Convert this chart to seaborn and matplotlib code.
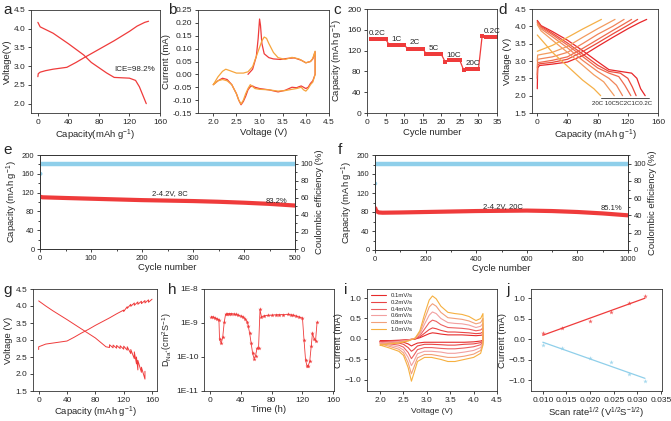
import matplotlib
matplotlib.use('Agg')
import matplotlib.pyplot as plt
import numpy as np
import seaborn as sns
from matplotlib.ticker import AutoMinorLocator, FuncFormatter, NullLocator
from matplotlib.lines import Line2D

RED = '#ef3b3b'
ORANGE = '#f6a53d'
BLUE = '#8fcfea'

# ---- a: first charge / discharge ----
a_chg_cap = [0, 0.5, 3, 10, 20, 38, 50, 60, 80, 100, 120, 130, 140, 145]
a_chg_v = [2.72, 2.8, 2.84, 2.88, 2.92, 2.97, 3.1, 3.22, 3.45, 3.68, 3.93, 4.07, 4.17, 4.2]
a_dis_cap = [0, 3, 20, 40, 60, 70, 80, 90, 100, 120, 128, 133, 137, 140, 142]
a_dis_v = [4.17, 4.05, 3.88, 3.6, 3.3, 3.1, 2.96, 2.82, 2.7, 2.68, 2.62, 2.45, 2.25, 2.1, 2.0]

# ---- b: CV first cycles ----
b_red_v = [2.75, 2.85, 2.93, 2.97, 3.0, 3.02, 3.05, 3.1, 3.2, 3.3, 3.45, 3.6, 3.75, 3.9, 4.0, 4.1,
           4.15, 4.2, 4.2, 4.15, 4.1, 4.05, 4.0, 3.95, 3.9, 3.85, 3.8, 3.7, 3.55, 3.4, 3.2, 3.0,
           2.9, 2.85, 2.8, 2.75, 2.7, 2.65, 2.6, 2.55, 2.5, 2.4, 2.3, 2.2, 2.1, 2.0]
b_red_i = [0.0, 0.02, 0.07, 0.14, 0.215, 0.19, 0.12, 0.08, 0.065, 0.06, 0.058, 0.062, 0.064, 0.055,
           0.045, 0.05, 0.06, 0.088, 0.0, -0.025, -0.035, -0.05, -0.055, -0.05, -0.045, -0.048,
           -0.052, -0.05, -0.062, -0.068, -0.06, -0.055, -0.05, -0.045, -0.048, -0.06, -0.085,
           -0.105, -0.118, -0.1, -0.075, -0.04, -0.02, -0.015, -0.025, -0.04]
b_or_v = [2.0, 2.1, 2.2, 2.27, 2.35, 2.5, 2.65, 2.75, 2.85, 2.95, 3.05, 3.1, 3.15, 3.2, 3.3, 3.4,
          3.55, 3.7, 3.85, 4.0, 4.1, 4.15, 4.2, 4.2, 4.15, 4.1, 4.05, 4.0, 3.95, 3.9, 3.8, 3.7,
          3.55, 3.4, 3.2, 3.0, 2.9, 2.8, 2.75, 2.7, 2.65, 2.6, 2.55, 2.5, 2.4, 2.3, 2.2, 2.1, 2.0]
b_or_i = [-0.04, -0.01, 0.012, 0.02, 0.015, 0.005, 0.005, 0.01, 0.03, 0.08, 0.13, 0.145, 0.14, 0.12,
          0.085, 0.065, 0.058, 0.066, 0.06, 0.045, 0.05, 0.062, 0.09, 0.0, -0.03, -0.04, -0.055,
          -0.065, -0.06, -0.05, -0.055, -0.058, -0.063, -0.065, -0.06, -0.058, -0.055, -0.04,
          -0.055, -0.075, -0.1, -0.115, -0.1, -0.075, -0.04, -0.025, -0.02, -0.025, -0.04]

# ---- c: rate capability ----
c_cycle = list(range(1, 36))
c_cap = [142, 142, 142, 142, 142, 131, 131, 131, 131, 130, 124, 124, 124, 124, 124,
         113, 113, 113, 113, 113, 99, 101, 102, 102, 101, 83, 84, 84, 84, 84,
         148, 147, 147, 146, 146]
c_rate_lbl = ['0.2C', '1C', '2C', '5C', '10C', '20C', '0.2C']
c_lbl_x = [0.5, 6.5, 11.5, 16.5, 21.5, 26.5, 31.5]
c_lbl_y = [150, 139, 132, 121, 108, 92, 153]

# ---- d: charge/discharge at different rates ----
d_rates = ['0.2C', '1C', '2C', '5C', '10C', '20C']
d_chg_cap = [
    [0, 0.5, 3, 20, 40, 60, 80, 100, 120, 135, 145],
    [0, 0.5, 3, 20, 40, 60, 80, 100, 120, 133],
    [0, 0.5, 20, 40, 60, 80, 100, 115, 125],
    [0, 0.5, 20, 40, 60, 80, 100, 115],
    [0, 0.5, 20, 40, 60, 80, 103],
    [0, 20, 40, 60, 85],
]
d_chg_v = [
    [2.2, 2.8, 2.87, 2.91, 2.97, 3.15, 3.42, 3.68, 3.93, 4.1, 4.2],
    [2.5, 2.88, 2.92, 2.96, 3.05, 3.27, 3.52, 3.78, 4.03, 4.2],
    [2.6, 2.95, 3.02, 3.12, 3.36, 3.62, 3.88, 4.07, 4.2],
    [2.8, 3.05, 3.12, 3.25, 3.5, 3.77, 4.0, 4.2],
    [3.0, 3.17, 3.25, 3.42, 3.68, 3.93, 4.2],
    [3.28, 3.45, 3.68, 3.92, 4.2],
]
d_dis_cap = [
    [0, 5, 20, 40, 60, 80, 95, 110, 125, 132, 137, 143],
    [0, 5, 20, 40, 60, 80, 95, 110, 120, 126, 131],
    [0, 5, 20, 40, 60, 80, 95, 108, 116, 124],
    [0, 5, 20, 40, 60, 80, 95, 105, 113],
    [0, 5, 20, 40, 60, 75, 88, 95, 102],
    [0, 10, 20, 40, 60, 75, 84],
]
d_dis_v = [
    [4.17, 4.02, 3.85, 3.6, 3.3, 2.98, 2.75, 2.7, 2.65, 2.5, 2.2, 2.0],
    [4.15, 4.0, 3.8, 3.52, 3.2, 2.88, 2.7, 2.65, 2.5, 2.25, 2.0],
    [4.12, 3.97, 3.76, 3.46, 3.13, 2.8, 2.65, 2.55, 2.3, 2.0],
    [4.1, 3.93, 3.7, 3.38, 3.02, 2.7, 2.5, 2.3, 2.0],
    [4.05, 3.87, 3.6, 3.25, 2.88, 2.6, 2.4, 2.2, 2.0],
    [3.75, 3.5, 3.25, 2.85, 2.45, 2.2, 2.0],
]
d_colors = ['#e8262a', '#eb4a3c', '#ef6a4e', '#f1845a', '#f39b60', '#f5b048']

# ---- e: long cycling 8C ----
e_cycle = [1, 5, 50, 100, 150, 200, 250, 300, 350, 400, 450, 500]
e_cap = [111, 110, 108.5, 107, 105.5, 104, 103, 102, 100.5, 98.5, 96, 92.5]
e_ce_cycle = [2, 500]
e_ce = [99.6, 99.6]
e_ce_first = 88

# ---- f: long cycling 20C ----
f_cycle = [1, 5, 15, 30, 100, 200, 300, 400, 500, 600, 700, 800, 900, 1000]
f_cap = [88, 82, 79, 78.5, 79, 80, 81, 82, 82.5, 83, 82, 80, 77, 73]
f_ce_cycle = [3, 1000]
f_ce = [99.5, 99.5]
f_ce_first = 77

# ---- g: GITT ----
g_chg_cap = [0, 0, 5, 10, 20, 30, 40, 50, 60, 70, 80, 90, 100, 110, 120, 120, 125, 125, 130, 130,
             135, 135, 140, 140, 145, 145, 150, 150, 155, 155, 160]
g_chg_v = [2.72, 2.8, 2.84, 2.88, 2.91, 2.94, 2.97, 3.08, 3.2, 3.31, 3.43, 3.54, 3.65, 3.77, 3.88,
           3.84, 3.98, 3.93, 4.05, 3.99, 4.09, 4.02, 4.12, 4.05, 4.14, 4.07, 4.16, 4.09, 4.18, 4.11, 4.2]
g_dis_cap = [0, 10, 20, 40, 60, 80, 95, 100, 100, 105, 105, 110, 110, 115, 115, 120, 120, 125, 125,
             130, 130, 135, 135, 138, 138, 140, 140, 145, 145, 150, 150]
g_dis_v = [4.15, 4.0, 3.86, 3.6, 3.33, 3.06, 2.8, 2.78, 2.86, 2.77, 2.85, 2.76, 2.84, 2.75, 2.83,
           2.73, 2.82, 2.7, 2.8, 2.6, 2.72, 2.45, 2.65, 2.3, 2.5, 2.12, 2.4, 2.05, 2.2, 1.85, 2.08]

# ---- h: diffusion coefficient ----
h_time = [1.5, 3.8, 6, 8.5, 11.4, 12.2, 14.5, 16.4, 18.3, 20, 22, 24.8, 27, 30.5, 33, 36, 40, 43,
          45.7, 48.4, 49.5, 51.4, 53.3, 55.2, 57, 59, 61, 62.9, 64.8, 66.7, 70.5, 75, 80, 85.7,
          90, 95, 101, 105, 108, 112, 116, 120, 122, 124, 125.7, 127.6, 129.5, 131.4, 133,
          135, 137, 139]
h_d = [1.55e-9, 1.5e-9, 1.42e-9, 1.35e-9, 1.26e-9, 3.3e-10, 2.5e-10, 4e-10, 1.05e-9, 1.8e-9,
       1.85e-9, 1.9e-9, 1.9e-9, 1.85e-9, 1.8e-9, 1.72e-9, 1.6e-9, 1.5e-9, 1.3e-9, 1.05e-9, 8e-10,
       5e-10, 2.5e-10, 1.3e-10, 9e-11, 1.1e-10, 1.8e-10, 1.8e-10, 2.5e-9, 1.5e-9, 1.65e-9, 1.68e-9,
       1.7e-9, 1.75e-9, 1.76e-9, 1.77e-9, 1.78e-9, 1.75e-9, 1.7e-9, 1.6e-9, 1.5e-9, 1.4e-9, 3.2e-10,
       8.3e-11, 5.6e-11, 5.6e-11, 7.6e-11, 2.1e-10, 5e-10, 3.5e-10, 3e-10, 1.05e-9]

# ---- i: CV at various scan rates ----
i_rates = ['0.1mV/s', '0.2mV/s', '0.4mV/s', '0.6mV/s', '0.8mV/s', '1.0mV/s']
i_colors = ['#e62a2a', '#e94545', '#ec6060', '#f2a0a0', '#f2a07a', '#f6b040']
i_up_v = [2.0, 2.2, 2.4, 2.6, 2.75, 2.85, 2.95, 3.05, 3.12, 3.2, 3.3, 3.45, 3.6, 3.75, 3.9, 4.05, 4.15, 4.2]
i_up = [
    [-0.05, -0.04, -0.03, -0.02, 0.0, 0.03, 0.08, 0.13, 0.15, 0.14, 0.12, 0.1, 0.1, 0.1, 0.09, 0.08, 0.09, 0.1],
    [-0.06, -0.05, -0.04, -0.02, 0.0, 0.05, 0.14, 0.23, 0.27, 0.25, 0.21, 0.17, 0.17, 0.16, 0.15, 0.13, 0.14, 0.17],
    [-0.08, -0.06, -0.05, -0.02, 0.01, 0.08, 0.24, 0.4, 0.46, 0.43, 0.35, 0.28, 0.27, 0.26, 0.24, 0.2, 0.22, 0.27],
    [-0.1, -0.08, -0.06, -0.03, 0.02, 0.12, 0.36, 0.58, 0.66, 0.62, 0.5, 0.4, 0.38, 0.37, 0.34, 0.28, 0.31, 0.38],
    [-0.12, -0.1, -0.08, -0.04, 0.02, 0.16, 0.48, 0.78, 0.86, 0.8, 0.65, 0.52, 0.5, 0.48, 0.44, 0.37, 0.4, 0.5],
    [-0.15, -0.12, -0.1, -0.05, 0.02, 0.2, 0.6, 0.95, 1.05, 0.98, 0.8, 0.65, 0.62, 0.6, 0.55, 0.45, 0.5, 0.62],
]
i_dn_v = [4.2, 4.15, 4.0, 3.8, 3.6, 3.45, 3.3, 3.1, 2.95, 2.8, 2.72, 2.67, 2.6, 2.5, 2.4, 2.2, 2.0]
i_dn = [
    [-0.03, -0.05, -0.07, -0.08, -0.08, -0.08, -0.08, -0.08, -0.08, -0.1, -0.14, -0.17, -0.12, -0.08, -0.06, -0.05, -0.05],
    [-0.05, -0.09, -0.12, -0.13, -0.15, -0.15, -0.14, -0.13, -0.13, -0.17, -0.26, -0.3, -0.21, -0.13, -0.1, -0.08, -0.06],
    [-0.07, -0.14, -0.19, -0.22, -0.24, -0.24, -0.23, -0.21, -0.21, -0.26, -0.4, -0.48, -0.33, -0.2, -0.15, -0.12, -0.08],
    [-0.1, -0.21, -0.28, -0.32, -0.35, -0.35, -0.32, -0.3, -0.3, -0.36, -0.55, -0.65, -0.45, -0.27, -0.2, -0.15, -0.1],
    [-0.12, -0.28, -0.37, -0.42, -0.45, -0.45, -0.42, -0.38, -0.38, -0.46, -0.7, -0.85, -0.58, -0.34, -0.25, -0.18, -0.12],
    [-0.15, -0.35, -0.45, -0.5, -0.55, -0.55, -0.5, -0.45, -0.45, -0.55, -0.85, -1.03, -0.7, -0.4, -0.3, -0.22, -0.15],
]

# ---- j: peak current vs sqrt(scan rate) ----
j_sqrt_rate = [0.0100, 0.0141, 0.0200, 0.0245, 0.0283, 0.0316]
j_anodic = [0.15, 0.26, 0.45, 0.65, 0.87, 1.05]
j_cathodic = [-0.14, -0.22, -0.45, -0.55, -0.85, -1.02]


sns.set_style('ticks')
plt.rcParams['font.family'] = ['Liberation Sans', 'DejaVu Sans']
plt.rcParams['mathtext.default'] = 'regular'
plt.rcParams['axes.linewidth'] = 0.6
plt.rcParams['axes.edgecolor'] = '#333333'
plt.rcParams['xtick.major.size'] = 2.5
plt.rcParams['ytick.major.size'] = 2.5
plt.rcParams['xtick.minor.size'] = 1.5
plt.rcParams['ytick.minor.size'] = 1.5
plt.rcParams['xtick.major.width'] = 0.6
plt.rcParams['ytick.major.width'] = 0.6
plt.rcParams['xtick.major.pad'] = 1.5
plt.rcParams['ytick.major.pad'] = 1.5
plt.rcParams['xtick.labelsize'] = 6
plt.rcParams['ytick.labelsize'] = 6
plt.rcParams['axes.labelsize'] = 6.8
plt.rcParams['axes.labelpad'] = 1.5

W, H = 671, 421
fig = plt.figure(figsize=(W / 100, H / 100), dpi=100)


def box(x0, y0, x1, y1):
    return fig.add_axes([x0 / W, 1 - y1 / H, (x1 - x0) / W, (y1 - y0) / H])


def line(ax, x, y, **kw):
    sns.lineplot(x=x, y=y, sort=False, estimator=None, ax=ax, **kw)


def letter(x, y, s):
    fig.text(x / W, 1 - y / H, s, fontsize=11, va='top', ha='left')


# a
ax = box(31, 10, 160, 113)
line(ax, a_chg_cap, a_chg_v, color=RED, lw=0.9)
line(ax, a_dis_cap, a_dis_v, color=RED, lw=0.9)
ax.text(100, 2.87, 'ICE=98.2%', fontsize=5.8)
ax.set_xlim(-9, 160)
ax.set_ylim(1.75, 4.5)
ax.set_xticks([0, 40, 80, 120, 160])
ax.set_yticks(np.arange(2.0, 4.51, 0.5))
ax.set_xlabel('Capacity(mAh g$^{-1}$)')
ax.set_ylabel('Voltage(V)')

# b
ax = box(198, 10, 329, 113)
line(ax, b_red_v, b_red_i, color=RED, lw=0.9)
line(ax, b_or_v, b_or_i, color=ORANGE, lw=0.9)
ax.set_xlim(1.67, 4.5)
ax.set_ylim(-0.15, 0.25)
ax.set_xticks(np.arange(2.0, 4.51, 0.5))
ax.set_yticks(np.arange(-0.15, 0.251, 0.05))
ax.yaxis.set_major_formatter(FuncFormatter(lambda v, _: f'{v:.2f}'))
ax.set_xlabel('Voltage (V)')
ax.set_ylabel('Current (mA)')

# c
ax = box(367, 9, 497, 113)
line(ax, c_cycle, c_cap, color=RED, lw=0.9, marker='s', markersize=3, markeredgewidth=0)
for s, x, y in zip(c_rate_lbl, c_lbl_x, c_lbl_y):
    ax.text(x, y, s, fontsize=5.8)
ax.set_xlim(0, 35)
ax.set_ylim(0, 200)
ax.set_xticks(range(0, 36, 5))
ax.set_yticks(range(0, 201, 40))
ax.set_xlabel('Cycle number')
ax.set_ylabel('Capacity (mAh g$^{-1}$)')

# d
ax = box(532, 9, 658, 113)
for cx, cv, dx, dv, col in zip(d_chg_cap, d_chg_v, d_dis_cap, d_dis_v, d_colors):
    line(ax, cx, cv, color=col, lw=0.9)
    line(ax, dx, dv, color=col, lw=0.9)
ends = [dx[-1] for dx in d_dis_cap]
ax.plot([min(ends), max(ends) + 5], [1.92, 1.92], color='#333333', lw=0.6)
rate_str = d_rates[-1] + ' ' + ''.join(d_rates[-2::-1])
ax.text(min(ends) - 11, 1.86, rate_str, fontsize=4.4, ha='left', va='top')
ax.set_xlim(-7, 160)
ax.set_ylim(1.5, 4.5)
ax.set_xticks([0, 40, 80, 120, 160])
ax.set_yticks(np.arange(1.5, 4.51, 0.5))
ax.set_xlabel('Capacity (mAh g$^{-1}$)')
ax.set_ylabel('Voltage (V)')


def long_cycle(ax, cyc, cap, ce_cyc, ce, ce_first, xmax, step, txt, tx, ty, pct, px, py):
    ax2 = ax.twinx()
    line(ax2, ce_cyc, ce, color=BLUE, lw=3.2)
    sns.scatterplot(x=[1], y=[ce_first], ax=ax2, color=BLUE, s=8, edgecolor='none')
    line(ax, cyc, cap, color=RED, lw=3)
    ax.set_zorder(ax2.get_zorder() + 1)
    ax.patch.set_visible(False)
    ax.set_xlim(0, xmax)
    ax.set_ylim(0, 200)
    ax.set_xticks(range(0, xmax + 1, step))
    ax.set_yticks(range(0, 201, 40))
    ax.yaxis.set_minor_locator(AutoMinorLocator(2))
    ax.xaxis.set_minor_locator(AutoMinorLocator(2))
    ax2.set_ylim(0, 110)
    ax2.set_yticks(range(0, 101, 20))
    ax2.yaxis.set_minor_locator(AutoMinorLocator(2))
    for a in (ax, ax2):
        a.tick_params(labelsize=5.5)
    ax2.set_ylabel('Coulombic efficiency (%)', fontsize=6.8)
    ax.set_xlabel('Cycle number', labelpad=1, fontsize=6.8)
    ax.set_ylabel('Capacity (mAh g$^{-1}$)', fontsize=6.8)
    ax.text(tx, ty, txt, fontsize=5.5, ha='center')
    ax.text(px, py, pct, fontsize=5.5, ha='center')


# e
ax = box(40, 155, 295, 249)
long_cycle(ax, e_cycle, e_cap, e_ce_cycle, e_ce, e_ce_first, 500, 100,
           '2-4.2V, 8C', 255, 115, '83.2%', 463, 98)

# f
ax = box(375, 155, 628, 250)
long_cycle(ax, f_cycle, f_cap, f_ce_cycle, f_ce, f_ce_first, 1000, 200,
           '2-4.2V, 20C', 505, 88, '85.1%', 935, 85)

# g
ax = box(33, 289, 157, 391)
line(ax, g_chg_cap, g_chg_v, color=RED, lw=0.7)
line(ax, g_dis_cap, g_dis_v, color=RED, lw=0.7)
ax.set_xlim(-8, 167)
ax.set_ylim(1.5, 4.5)
ax.set_xticks([0, 40, 80, 120, 160])
ax.set_yticks(np.arange(1.5, 4.51, 0.5))
ax.set_xlabel('Capacity (mAh g$^{-1}$)', labelpad=1)
ax.set_ylabel('Voltage (V)')

# h
ax = box(204, 289, 334, 391)
line(ax, h_time, h_d, color=RED, lw=0.6, marker='*', markersize=3.2, markeredgewidth=0)
ax.set_yscale('log')
ax.set_ylim(1e-11, 1e-8)
ax.set_xlim(-8, 161)
ax.set_xticks([0, 40, 80, 120, 160])
ax.yaxis.set_major_formatter(FuncFormatter(lambda v, _: f'1E{int(round(np.log10(v)))}'))
ax.yaxis.set_minor_locator(NullLocator())
ax.set_xlabel('Time (h)', labelpad=1)
ax.set_ylabel('D$_{Na^{+}}$(cm$^{2}$S$^{-1}$)', fontsize=6.5)

# i
ax = box(367, 289, 497, 391)
for up, dn, col in zip(i_up, i_dn, i_colors):
    line(ax, i_up_v + i_dn_v, up + dn, color=col, lw=0.8)
handles = [Line2D([], [], color=c, lw=0.8) for c in i_colors]
ax.legend(handles, i_rates, loc='upper left', fontsize=4.3, frameon=False,
          handlelength=2.4, labelspacing=0.25, borderaxespad=0.3)
ax.set_xlim(1.72, 4.5)
ax.set_ylim(-1.27, 1.22)
ax.set_xticks(np.arange(2.0, 4.51, 0.5))
ax.set_yticks(np.arange(-1.0, 1.01, 0.5))
ax.set_xlabel('Voltage (V)', fontsize=6, labelpad=3)
ax.set_ylabel('Current (mA)')

# j
ax = box(531, 289, 662, 391)
sns.regplot(x=j_sqrt_rate, y=j_anodic, ci=None, ax=ax, color=RED, marker='*',
            scatter_kws={'s': 12, 'linewidths': 0}, line_kws={'lw': 0.9})
sns.regplot(x=j_sqrt_rate, y=j_cathodic, ci=None, ax=ax, color=BLUE, marker='*',
            scatter_kws={'s': 12, 'linewidths': 0}, line_kws={'lw': 0.9})
ax.set_xlim(0.0075, 0.0352)
ax.set_ylim(-1.26, 1.22)
ax.set_xticks(np.arange(0.010, 0.0351, 0.005))
ax.xaxis.set_major_formatter(FuncFormatter(lambda v, _: f'{v:.3f}'))
ax.set_yticks(np.arange(-1.0, 1.01, 0.5))
ax.set_xlabel('Scan rate$^{1/2}$ (V$^{1/2}$S$^{-1/2}$)', labelpad=1)
ax.set_ylabel('Current (mA)')

letter(3, 3, 'a')
letter(168, 3, 'b')
letter(333, 3, 'c')
letter(498, 3, 'd')
letter(3, 143, 'e')
letter(338, 143, 'f')
letter(3, 283, 'g')
letter(168, 283, 'h')
letter(344, 283, 'i')
letter(506, 283, 'j')

fig.savefig('out.png', dpi=100)
